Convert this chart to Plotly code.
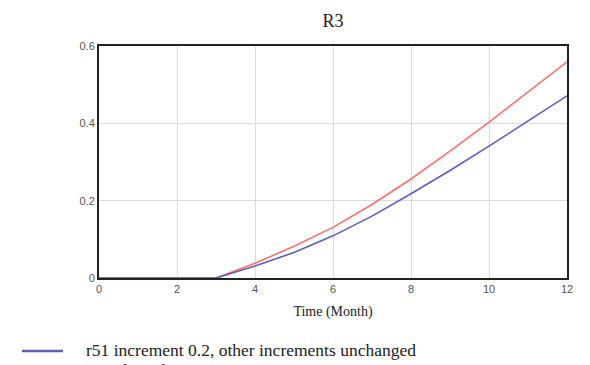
import plotly.graph_objects as go

months = [0, 1, 2, 3, 4, 5, 6, 7, 8, 9, 10, 11, 12]
r51_increment = [0, 0, 0, 0, 0.031, 0.066, 0.109, 0.160, 0.218, 0.278, 0.341, 0.405, 0.471]
initial_results = [0, 0, 0, 0, 0.038, 0.082, 0.131, 0.190, 0.256, 0.328, 0.403, 0.480, 0.559]
series_names = ["r51 increment 0.2, other increments unchanged", "Initial results"]
x_ticks = [0, 2, 4, 6, 8, 10, 12]
y_ticks = [0, 0.2, 0.4, 0.6]
y_tick_labels = ["0", "0.2", "0.4", "0.6"]

blue = "#5e5ebf"
red = "#ff7070"

fig = go.Figure()
fig.add_trace(go.Scatter(x=months, y=initial_results, mode="lines", name=series_names[1],
                         line=dict(color=red, width=1.6), showlegend=False))
fig.add_trace(go.Scatter(x=months, y=r51_increment, mode="lines", name=series_names[0],
                         line=dict(color=blue, width=1.6), showlegend=False))

serif = "Liberation Serif"
sans = "Liberation Sans"

L, R, T, B = 99, 23, 46, 87
PW, PH = 590 - L - R, 365 - T - B


def px_x(x):
    return (x - L) / PW


def px_y(y):
    return (365 - B - y) / PH


fig.update_layout(
    width=590, height=365,
    margin=dict(l=L, r=R, t=T, b=B),
    paper_bgcolor="white", plot_bgcolor="white",
    title=dict(text="R3", x=333 / 590, xanchor="center", y=1 - 21 / 365, yanchor="middle",
               font=dict(family=serif, size=18, color="#222")),
    xaxis=dict(range=[0, 12], tickvals=x_ticks, showgrid=True, gridcolor="#dcdcdc", gridwidth=1,
               showline=True, linecolor="#222", linewidth=2, mirror=True, zeroline=False,
               ticks="", tickfont=dict(family=sans, size=11, color="#555"),
               title=dict(text="Time (Month)", font=dict(family=serif, size=14, color="#222"), standoff=12)),
    yaxis=dict(range=[0, 0.6], tickvals=y_ticks, ticktext=y_tick_labels, showgrid=True,
               gridcolor="#dcdcdc", gridwidth=1, showline=True, linecolor="#222", linewidth=2,
               mirror=True, zeroline=False, ticks="", tickfont=dict(family=sans, size=11, color="#555")),
)

# Custom legend below the plot (second entry runs past the figure's bottom edge, as in the reference)
legend_rows = [(series_names[0], blue, 351, 350), (series_names[1], red, 371, 370)]
for name, color, line_y, text_y in legend_rows:
    fig.add_shape(type="line", xref="paper", yref="paper",
                  x0=px_x(22), x1=px_x(63), y0=px_y(line_y), y1=px_y(line_y),
                  line=dict(color=color, width=2.5))
    fig.add_annotation(xref="paper", yref="paper", x=px_x(84), y=px_y(text_y),
                       text=name, showarrow=False, xanchor="left", yanchor="middle",
                       font=dict(family=serif, size=17.5, color="#222"))

fig.write_html("out.html")
